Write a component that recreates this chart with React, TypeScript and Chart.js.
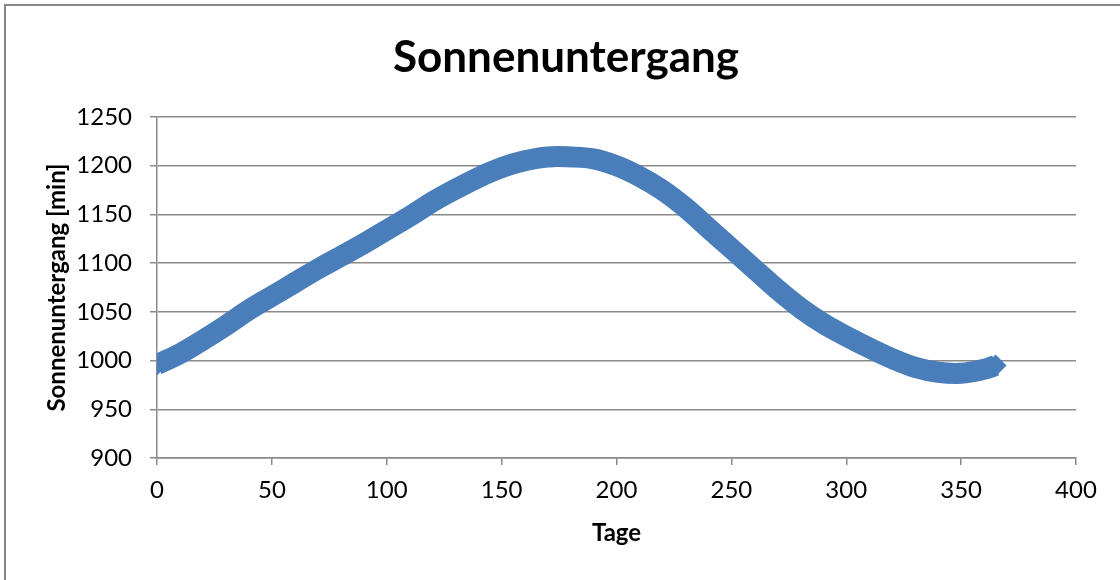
import React, { useEffect, useRef } from "react";
import { Chart, registerables } from "chart.js";

Chart.register(...registerables);

// Tag des Jahres
const days: number[] = [
  0, 10, 20, 30, 40, 50, 60, 70, 80, 90, 100, 110, 120, 130, 140, 150, 160, 170, 180,
  190, 200, 210, 220, 230, 240, 250, 260, 270, 280, 290, 300, 310, 320, 330, 340, 350, 360, 365,
];

// Sonnenuntergang in Minuten nach Mitternacht
const sunsetMinutes: number[] = [
  996, 1007, 1021, 1036, 1052, 1066, 1080, 1094, 1107, 1120, 1134, 1148, 1163, 1176, 1188, 1198, 1205, 1209, 1209,
  1207, 1200, 1189, 1175, 1157, 1136, 1115, 1094, 1073, 1054, 1038, 1025, 1013, 1002, 993, 988, 987, 991, 995,
];

const titleText = "Sonnenuntergang";
const xTitle = "Tage";
const yTitle = "Sonnenuntergang [min]";

const CANVAS_W = 1132;
const CANVAS_H = 580;
const GRID = "#8a8a8a";
const SERIES = "#4a7ebb";
const FONT = "Lato, 'Open Sans', sans-serif";

export default function App() {
  const canvasRef = useRef<HTMLCanvasElement | null>(null);

  useEffect(() => {
    const canvas = canvasRef.current;
    if (!canvas) return;
    const points = days.map((d, i) => ({ x: d, y: sunsetMinutes[i] }));
    const last = points.length - 1;

    const chart = new Chart(canvas, {
      type: "line",
      data: {
        datasets: [
          {
            data: points,
            borderColor: SERIES,
            backgroundColor: SERIES,
            borderWidth: 21,
            borderJoinStyle: "round",
            borderCapStyle: "butt",
            tension: 0.4,
            pointStyle: "rectRot",
            pointRadius: (ctx: any) => (ctx.dataIndex === 0 || ctx.dataIndex === last ? 11 : 0),
            pointBorderWidth: 0,
            pointHoverRadius: 0,
          },
        ],
      },
      options: {
        responsive: false,
        maintainAspectRatio: false,
        animation: false,
        events: [],
        layout: { padding: { left: 56, right: 56, top: 0, bottom: 0 } },
        plugins: {
          legend: { display: false },
          tooltip: { enabled: false },
          title: {
            display: true,
            text: titleText,
            color: "#000",
            font: { family: FONT, size: 44, weight: "bold" },
            padding: { top: 31, bottom: 33.2 },
          },
        },
        scales: {
          x: {
            type: "linear",
            min: 0,
            max: 400,
            ticks: {
              stepSize: 50,
              color: "#000",
              padding: 11,
              font: { family: FONT, size: 24 },
              callback: (v: any) => String(v),
            },
            grid: {
              drawOnChartArea: false,
              drawTicks: true,
              tickLength: 7,
              color: GRID,
              lineWidth: 1.5,
            },
            border: { color: GRID, width: 1.5 },
            title: {
              display: true,
              text: xTitle,
              color: "#000",
              font: { family: FONT, size: 24, weight: "bold" },
              padding: { top: 0, bottom: 32 },
            },
            afterFit: (scale: any) => {
              scale.height = 122;
            },
          },
          y: {
            type: "linear",
            min: 900,
            max: 1250,
            ticks: {
              stepSize: 50,
              color: "#000",
              padding: 18,
              font: { family: FONT, size: 24 },
              callback: (v: any) => String(v),
            },
            grid: {
              drawTicks: true,
              tickLength: 7,
              color: GRID,
              lineWidth: 1.5,
            },
            border: { color: GRID, width: 1.5 },
            title: {
              display: true,
              text: yTitle,
              color: "#000",
              font: { family: FONT, size: 24, weight: "bold" },
              padding: { top: -13, bottom: 0 },
            },
            afterFit: (scale: any) => {
              scale.width = 101;
            },
          },
        },
      },
    });

    return () => chart.destroy();
  }, []);

  return (
    <div
      style={{
        position: "fixed",
        left: 0,
        top: 0,
        width: 1120,
        height: 580,
        overflow: "hidden",
        background: "#fff",
      }}
    >
      <div
        style={{
          position: "absolute",
          left: 4,
          top: 4,
          width: 1200,
          height: 700,
          border: "2px solid #878787",
          boxSizing: "border-box",
        }}
      />
      <canvas
        ref={canvasRef}
        width={CANVAS_W}
        height={CANVAS_H}
        style={{ position: "absolute", left: 0, top: 0, width: CANVAS_W, height: CANVAS_H }}
      />
    </div>
  );
}
